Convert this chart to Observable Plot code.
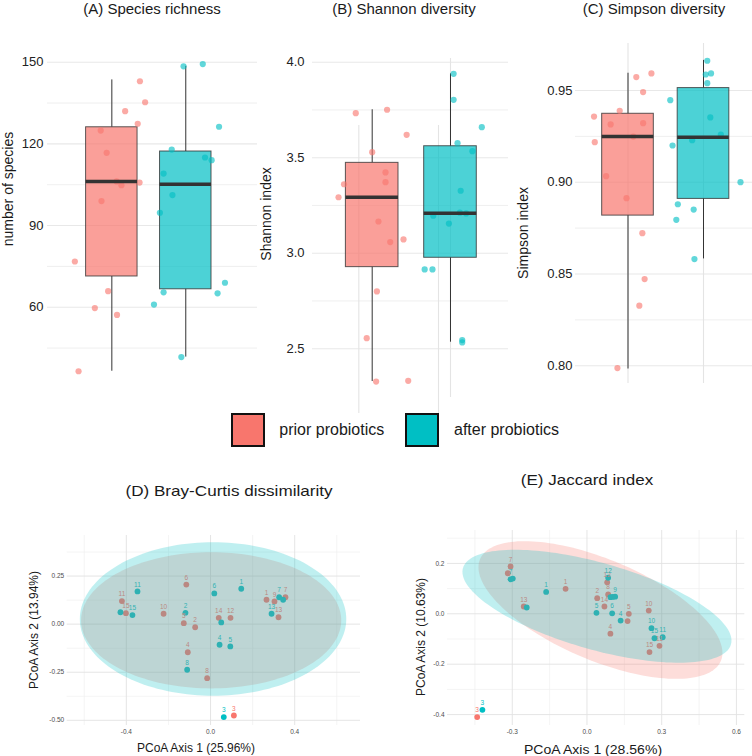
<!DOCTYPE html>
<html><head><meta charset="utf-8">
<script src="https://cdn.jsdelivr.net/npm/d3@7"></script>
<script src="https://cdn.jsdelivr.net/npm/@observablehq/plot@0.6"></script>
<style>
html,body{margin:0;padding:0;background:#fff;}
#fig{position:relative;width:752px;height:756px;overflow:hidden;font-family:"Liberation Sans",Arial,sans-serif;color:#1a1a1a;background:#fff;}
.p{position:absolute;}
.t{position:absolute;white-space:nowrap;line-height:1;transform:translate(-50%,-50%);}
.r{transform:translate(-50%,-50%) rotate(-90deg);}
.sw{position:absolute;box-sizing:border-box;border:2px solid #111;}
.lg{position:absolute;white-space:nowrap;line-height:1;transform:translateY(-50%);font-size:16px;}
</style></head>
<body><div id="fig"></div>
<script>
const groups = ["prior probiotics", "after probiotics"];
const groupColors = ["#F8766D", "#00BFC4"];

// (A) Species richness
const speciesPrior = [143.0,135.3,132.0,127.4,124.9,116.7,106.2,104.8,105.8,99.0,76.8,65.9,59.7,57.2,36.5];
const speciesPriorJitter = [0.38,0.45,0.18,0.35,-0.15,-0.07,0.065,0.13,0.375,-0.14,-0.50,-0.05,-0.23,0.07,-0.45];
const speciesAfter = [148.5,149.3,126.3,117.9,115.0,114.0,109.1,101.2,94.7,69.0,65.5,65.1,61.0,41.7];
const speciesAfterJitter = [-0.03,0.23,0.45,-0.19,0.26,0.35,-0.30,-0.18,-0.35,0.53,-0.30,0.43,-0.43,-0.06];
const speciesLo = [36.5, 41.7], speciesQ1 = [71.3, 66.6], speciesMed = [106.2, 105.2], speciesQ3 = [126.1, 117.2], speciesHi = [143.5, 148.5];
const speciesTicks = [60, 90, 120, 150], speciesMinor = [45, 75, 105, 135];

// (B) Shannon diversity
const shannonPrior = [3.733,3.751,3.620,3.529,3.423,3.372,3.361,3.293,3.166,3.072,3.058,2.800,2.555,2.328,2.332];
const shannonPriorJitter = [-0.21,0.19,0.44,0.0,0.17,0.17,-0.36,-0.43,0.08,0.40,0.23,0.06,-0.07,0.05,0.46];
const shannonAfter = [3.939,3.803,3.660,3.576,3.534,3.327,3.212,3.208,3.196,3.155,2.915,2.915,2.545,2.533];
const shannonAfterJitter = [0.04,0.04,0.40,0.09,0.28,0.13,0.12,0.20,-0.22,-0.02,-0.33,-0.23,0.15,0.15];
const shannonLo = [2.328, 2.534], shannonQ1 = [2.927, 2.976], shannonMed = [3.293, 3.209], shannonQ3 = [3.473, 3.56], shannonHi = [3.751, 3.939];
const shannonTicks = [2.5, 3.0, 3.5, 4.0], shannonMinor = [2.75, 3.25, 3.75];
const shannonGuideX = [0.829, 1.847, 2], shannonGuideTop = [3.669, 3.669, 4.02], shannonGuideBottom = [2.161, 2.161, 2.245];

// (C) Simpson diversity
const simpsonPrior = [0.9593,0.9573,0.9491,0.9389,0.9358,0.9315,0.9322,0.9249,0.9218,0.9033,0.8913,0.8722,0.8472,0.8327,0.7987];
const simpsonPriorJitter = [0.31,0.11,0.20,-0.11,-0.45,-0.23,0.20,0.07,-0.44,-0.29,-0.02,0.19,0.22,0.15,-0.14];
const simpsonAfter = [0.9662,0.9587,0.9593,0.9540,0.9447,0.9353,0.9260,0.9229,0.9200,0.9000,0.8880,0.8851,0.8795,0.8581];
const simpsonAfterJitter = [0.05,0.03,0.10,0.05,-0.44,0.09,0.23,-0.15,-0.41,0.49,-0.34,-0.13,-0.36,-0.12];
const simpsonLo = [0.7982, 0.8582], simpsonQ1 = [0.8818, 0.8909], simpsonMed = [0.9249, 0.9245], simpsonQ3 = [0.9373, 0.9513], simpsonHi = [0.9594, 0.9664];
const simpsonTicks = [0.80, 0.85, 0.90, 0.95], simpsonMinor = [0.825, 0.875, 0.925];

// (D) Bray-Curtis PCoA
const brayPriorLabel = ["11","15","10","6","5","2","4","8","14","12","1","9","7","13","3"];
const brayPriorX = [-0.421,-0.402,-0.223,-0.115,-0.127,-0.073,-0.108,-0.016,0.039,0.095,0.266,0.304,0.356,0.323,0.111];
const brayPriorY = [0.120,0.057,0.054,0.206,0.005,-0.016,-0.146,-0.281,0.033,0.033,0.127,0.118,0.140,0.036,-0.475];
const brayAfterLabel = ["11","","15","2","6","1","7","","13","","4","5","8","3"];
const brayAfterX = [-0.347,-0.428,-0.371,-0.119,0.018,0.146,0.326,0.345,0.290,0.051,0.043,0.094,-0.111,0.063];
const brayAfterY = [0.170,0.062,0.047,0.059,0.160,0.184,0.140,0.127,0.054,0.009,-0.107,-0.116,-0.237,-0.483];
const brayEllCx = [0.003, 0.012], brayEllCy = [0.020, 0.027], brayEllA = [0.618, 0.633], brayEllB = [0.354, 0.399], brayEllAngle = [0, 0];

// (E) Jaccard PCoA
const jacPriorLabel = ["7","","13","1","12","2","8","14","5","","4","10","11","15","3"];
const jacPriorX = [-0.307,-0.318,-0.254,-0.086,0.081,0.041,0.085,0.070,0.168,0.163,0.094,0.248,0.291,0.251,-0.441];
const jacPriorY = [0.188,0.161,0.029,0.099,0.125,0.062,0.077,0.029,0.000,-0.029,-0.079,0.013,-0.127,-0.152,-0.410];
const jacAfterLabel = ["7","","","1","12","","","9","5","6","4","10","15","11","3"];
const jacAfterX = [-0.307,-0.298,-0.242,-0.164,0.085,0.094,0.103,0.113,0.038,0.101,0.135,0.259,0.271,0.304,-0.420];
const jacAfterY = [0.137,0.140,0.025,0.087,0.143,0.066,0.067,0.068,0.004,0.002,-0.027,-0.057,-0.097,-0.093,-0.381];
const jacEllCx = [0.054, 0.040], jacEllCy = [0.015, 0.030], jacEllA = [0.524, 0.559], jacEllB = [0.200, 0.172], jacEllAngle = [-22.6, -15.7];

const fig = document.getElementById("fig");
const FONT = '"Liberation Sans", Arial, sans-serif';

function pointRows(vals, jit, gi) {
  return vals.map((v, i) => ({group: groups[gi], pos: gi + 1, x: gi + 1 + jit[i], v}));
}
function boxRows(lo, q1, med, q3, hi) {
  return groups.map((g, i) => ({group: g, pos: i + 1, lo: lo[i], q1: q1[i], med: med[i], q3: q3[i], hi: hi[i]}));
}
function place(el, left, top) {
  el.classList.add("p");
  el.style.left = left + "px";
  el.style.top = top + "px";
  fig.appendChild(el);
}
function text(str, cx, cy, size, extra) {
  const d = document.createElement("div");
  d.className = "t" + (extra && extra.rotate ? " r" : "");
  d.textContent = str;
  d.style.left = cx + "px";
  d.style.top = cy + "px";
  d.style.fontSize = size + "px";
  if (extra && extra.sx) d.style.transform = "translate(-50%,-50%) scaleX(" + extra.sx + ")";
  fig.appendChild(d);
}

function boxPanel(c) {
  const pts = [...pointRows(c.prior, c.priorJ, 0), ...pointRows(c.after, c.afterJ, 1)];
  const boxes = boxRows(c.lo, c.q1, c.med, c.q3, c.hi);
  const h = c.half;
  const marks = [
    Plot.gridY(c.minor, {stroke: "#EDEDED", strokeOpacity: 1, strokeWidth: 0.9}),
    Plot.gridY(c.ticks, {stroke: "#E8E8E8", strokeOpacity: 1, strokeWidth: 1.1}),
  ];
  if (c.guides) marks.push(Plot.ruleX(c.guides, {x: "x", y1: "y1", y2: "y2", stroke: "#E4E4E4", strokeWidth: 1.1}));
  if (c.vgrid) marks.push(Plot.ruleX(c.vgrid, {stroke: "#E4E4E4", strokeWidth: 1.1}));
  marks.push(
    Plot.axisY(c.ticks, {tickSize: 0, tickPadding: c.pad, tickFormat: c.fmt, fontSize: 13, label: null}),
    Plot.ruleX(boxes, {x: "pos", y1: "q3", y2: "hi", stroke: "#333", strokeWidth: 1}),
    Plot.ruleX(boxes, {x: "pos", y1: "lo", y2: "q1", stroke: "#333", strokeWidth: 1}),
    Plot.rect(boxes, {x1: d => d.pos - h, x2: d => d.pos + h, y1: "q1", y2: "q3", fill: "group", fillOpacity: 0.7, stroke: "#333", strokeOpacity: 0.8, strokeWidth: 1}),
    Plot.dot(pts, {x: "x", y: "v", r: 3.1, fill: "group", fillOpacity: 0.62}),
    Plot.ruleY(boxes, {y: "med", x1: d => d.pos - h, x2: d => d.pos + h, stroke: "#333", strokeWidth: 3.6})
  );
  return Plot.plot({
    width: c.width, height: c.height,
    marginLeft: c.ml, marginRight: c.mr, marginTop: c.mt, marginBottom: c.mb,
    x: {domain: c.xDomain, axis: null},
    y: {domain: c.yDomain, axis: null},
    color: {domain: groups, range: groupColors},
    style: {fontFamily: FONT, fontSize: "13px", color: "#222", background: "transparent", overflow: "visible"},
    marks
  });
}

function ellipseRows(cx, cy, a, b, ang) {
  const out = [];
  groups.forEach((g, gi) => {
    const th = ang[gi] * Math.PI / 180, n = 160;
    for (let i = 0; i <= n; i++) {
      const t = 2 * Math.PI * i / n;
      out.push({group: g,
        x: cx[gi] + a[gi] * Math.cos(th) * Math.cos(t) - b[gi] * Math.sin(th) * Math.sin(t),
        y: cy[gi] + a[gi] * Math.sin(th) * Math.cos(t) + b[gi] * Math.cos(th) * Math.sin(t)});
    }
  });
  return out;
}

function pcoaPanel(c) {
  const pts = [
    ...c.pX.map((x, i) => ({group: groups[0], x, y: c.pY[i], label: c.pL[i]})),
    ...c.aX.map((x, i) => ({group: groups[1], x, y: c.aY[i], label: c.aL[i]}))
  ];
  const ell = ellipseRows(c.eCx, c.eCy, c.eA, c.eB, c.eAng);
  return Plot.plot({
    width: c.width, height: c.height,
    marginLeft: c.ml, marginRight: c.mr, marginTop: c.mt, marginBottom: c.mb,
    x: {domain: c.xDomain, axis: null},
    y: {domain: c.yDomain, axis: null},
    color: {domain: groups, range: groupColors},
    style: {fontFamily: FONT, fontSize: "6.5px", color: "#4d4d4d", background: "transparent", overflow: "visible"},
    marks: [
      Plot.gridX(c.xMinor, {stroke: "#EFEFEF", strokeOpacity: 1, strokeWidth: 0.7}),
      Plot.gridY(c.yMinor, {stroke: "#EFEFEF", strokeOpacity: 1, strokeWidth: 0.7}),
      Plot.gridX(c.xMajor, {stroke: "#E2E2E2", strokeOpacity: 1, strokeWidth: 0.9}),
      Plot.gridY(c.yMajor, {stroke: "#E2E2E2", strokeOpacity: 1, strokeWidth: 0.9}),
      Plot.axisX(c.xMajor, {tickSize: 0, tickPadding: c.xPad, tickFormat: d => d.toFixed(c.xDigits), fontSize: 6.5, label: null}),
      Plot.axisY(c.yMajor, {tickSize: 0, tickPadding: c.yPad, tickFormat: d => d.toFixed(c.yDigits), fontSize: 6.5, label: null}),
      Plot.dot(pts, {x: "x", y: "y", r: 2.9, fill: "group"}),
      Plot.text(pts, {x: "x", y: "y", text: "label", fill: "group", dy: -7, fontSize: 6.5}),
      Plot.line(ell, {x: "x", y: "y", z: "group", fill: "group", fillOpacity: 0.25, stroke: "none"})
    ]
  });
}

// Panel A
place(boxPanel({
  width: 258, height: 400, ml: 47, mr: 1, mt: 40, mb: 20,
  xDomain: [0.13, 2.97], yDomain: [33.1, 157.97], half: 0.348,
  ticks: speciesTicks, minor: speciesMinor, pad: 4, fmt: d => d.toFixed(0),
  prior: speciesPrior, priorJ: speciesPriorJitter, after: speciesAfter, afterJ: speciesAfterJitter,
  lo: speciesLo, q1: speciesQ1, med: speciesMed, q3: speciesQ3, hi: speciesHi
}), 0, 0);

// Panel B
place(boxPanel({
  width: 250, height: 420, ml: 54, mr: 0, mt: 40, mb: 7,
  xDomain: [0.2375, 2.741], yDomain: [2.1607, 4.1136], half: 0.336,
  ticks: shannonTicks, minor: shannonMinor, pad: 8, fmt: d => d.toFixed(1),
  guides: shannonGuideX.map((x, i) => ({x, y1: shannonGuideTop[i], y2: shannonGuideBottom[i]})),
  prior: shannonPrior, priorJ: shannonPriorJitter, after: shannonAfter, afterJ: shannonAfterJitter,
  lo: shannonLo, q1: shannonQ1, med: shannonMed, q3: shannonQ3, hi: shannonHi
}), 258, 0);

// Panel C
place(boxPanel({
  width: 244, height: 400, ml: 67, mr: 0, mt: 43, mb: 17,
  xDomain: [0.3046, 2.649], yDomain: [0.7903, 0.9756], half: 0.342,
  ticks: simpsonTicks, minor: simpsonMinor, pad: 3, fmt: d => d.toFixed(2),
  vgrid: [1, 2],
  prior: simpsonPrior, priorJ: simpsonPriorJitter, after: simpsonAfter, afterJ: simpsonAfterJitter,
  lo: simpsonLo, q1: simpsonQ1, med: simpsonMed, q3: simpsonQ3, hi: simpsonHi
}), 508, 0);

// Panel D
place(pcoaPanel({
  width: 376, height: 236, ml: 66.7, mr: 16, mt: 15, mb: 31,
  xDomain: [-0.681, 0.7126], yDomain: [-0.527, 0.461],
  xMajor: [-0.4, 0, 0.4], xMinor: [-0.6, -0.2, 0.2, 0.6],
  yMajor: [-0.5, -0.25, 0, 0.25], yMinor: [-0.375, -0.125, 0.125, 0.375],
  xDigits: 1, yDigits: 2, xPad: 4, yPad: 3,
  pX: brayPriorX, pY: brayPriorY, pL: brayPriorLabel,
  aX: brayAfterX, aY: brayAfterY, aL: brayAfterLabel,
  eCx: brayEllCx, eCy: brayEllCy, eA: brayEllA, eB: brayEllB, eAng: brayEllAngle
}), 0, 520);

// Panel E
place(pcoaPanel({
  width: 376, height: 236, ml: 71, mr: 7.7, mt: 10, mb: 31,
  xDomain: [-0.5602, 0.6337], yDomain: [-0.4433, 0.3306],
  xMajor: [-0.3, 0, 0.3, 0.6], xMinor: [-0.45, -0.15, 0.15, 0.45],
  yMajor: [-0.4, -0.2, 0, 0.2], yMinor: [-0.3, -0.1, 0.1, 0.3],
  xDigits: 1, yDigits: 1, xPad: 4, yPad: 3,
  pX: jacPriorX, pY: jacPriorY, pL: jacPriorLabel,
  aX: jacAfterX, aY: jacAfterY, aL: jacAfterLabel,
  eCx: jacEllCx, eCy: jacEllCy, eA: jacEllA, eB: jacEllB, eAng: jacEllAngle
}), 376, 520);

// Titles and axis titles
text("(A) Species richness", 152, 8, 15);
text("(B) Shannon diversity", 404, 8, 15);
text("(C) Simpson diversity", 654, 8, 15);
text("number of species", 8, 189, 14, {rotate: true});
text("Shannon index", 266, 214, 14, {rotate: true});
text("Simpson index", 522.5, 232.5, 14, {rotate: true});
text("(D) Bray-Curtis dissimilarity", 229.3, 490, 15, {sx: 1.14});
text("(E) Jaccard index", 587, 478.5, 15, {sx: 1.136});
text("PCoA Axis 2 (13.94%)", 34, 630, 12, {rotate: true});
text("PCoA Axis 1 (25.96%)", 196, 748, 12);
text("PCoA Axis 2 (10.63%)", 421, 636.7, 12, {rotate: true});
text("PCoA Axis 1 (28.56%)", 592.7, 750, 12, {sx: 1.17});

// Legend
const swLeft = [231, 405], lgLeft = [279.3, 454];
groups.forEach((g, i) => {
  const s = document.createElement("div");
  s.className = "sw";
  s.style.left = swLeft[i] + "px"; s.style.top = "413px";
  s.style.width = "34px"; s.style.height = "34px";
  s.style.background = groupColors[i];
  fig.appendChild(s);
  const l = document.createElement("div");
  l.className = "lg";
  l.textContent = g;
  l.style.left = lgLeft[i] + "px"; l.style.top = "430px";
  fig.appendChild(l);
});
</script></body></html>
